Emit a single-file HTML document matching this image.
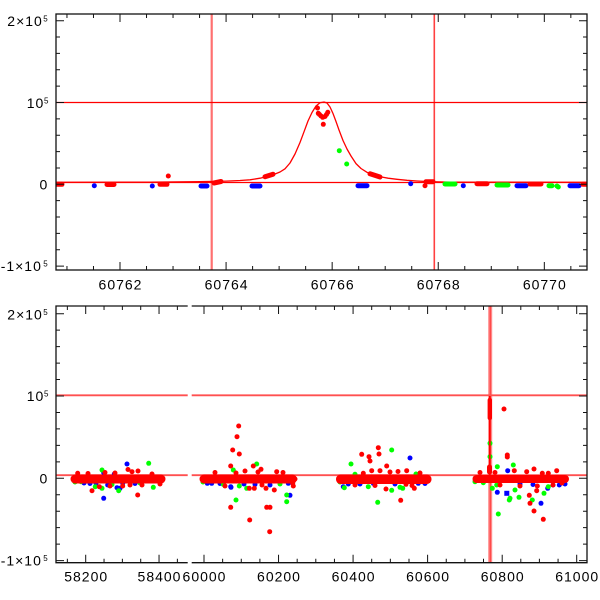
<!DOCTYPE html>
<html><head><meta charset="utf-8"><style>
html,body{margin:0;padding:0;background:#fff;}
svg{display:block;}
.t{font-family:"Liberation Sans",Arial,sans-serif;font-size:14px;fill:#000;letter-spacing:1px;}
.s{font-family:"Liberation Sans",Arial,sans-serif;font-size:8px;fill:#000;}
</style></head><body>
<svg width="600" height="600" viewBox="0 0 600 600" xmlns="http://www.w3.org/2000/svg">
<defs>
<clipPath id="c1"><rect x="56" y="14" width="531" height="256"/></clipPath>
<clipPath id="c2"><rect x="56" y="306" width="531" height="256.7"/></clipPath>
</defs>
<rect width="600" height="600" fill="#fff"/>

<!-- ================= TOP PANEL ================= -->
<g clip-path="url(#c1)">
<line x1="211.7" y1="14" x2="211.7" y2="270" stroke="#ff7070" stroke-width="2.2"/>
<line x1="434.3" y1="14" x2="434.3" y2="270" stroke="#ff4040" stroke-width="1.6"/>
<line x1="56" y1="102.5" x2="587" y2="102.5" stroke="#f00" stroke-width="1.3"/>
<line x1="56" y1="182.5" x2="587" y2="182.5" stroke="#f00" stroke-width="1.3"/>
<polyline fill="none" stroke="#f00" stroke-width="1.3" stroke-linejoin="round" points="56,182.3 150,182.1 200,181.7 226,181.1 240,180.5 250,179.8 260,178.2 265,177 270,175.6 275,174 280,172 285,168.8 290,163 295,154 300,142.5 304,131.8 308,121 312,112.5 316,106 320,102.8 324,102 327,103 330,107 333,113.5 336,121.5 339,130 343,140.5 347,149 351,156 356,163.6 361,168.5 367,172.3 373,174.8 380,176.7 388,178.2 397,179.3 407,180.3 417,181 430,181.7 450,182.1 587,182.3"/>
<g stroke-linecap="round" stroke-width="5" fill="none">
<g stroke="#00f">
<line x1="201" y1="186" x2="207" y2="186"/>
<line x1="252" y1="186" x2="260" y2="186"/>
<line x1="358" y1="185.7" x2="367" y2="185.7"/>
<line x1="517" y1="185.7" x2="526" y2="185.7"/>
<line x1="570" y1="185.7" x2="579" y2="185.7"/>
</g>
<g stroke="#00ff00">
<line x1="445" y1="184" x2="455" y2="184"/>
<line x1="497" y1="185" x2="508" y2="185"/>
<line x1="549" y1="185.7" x2="552" y2="185.7"/>
</g>
<g stroke="#f00">
<line x1="57" y1="184.3" x2="62" y2="184.3"/>
<line x1="107" y1="184.5" x2="114" y2="184.5"/>
<line x1="160" y1="184.3" x2="167" y2="184.3"/>
<line x1="214" y1="183" x2="221" y2="181.5"/>
<line x1="265" y1="176.7" x2="273" y2="174.2"/>
<line x1="370" y1="173.8" x2="380" y2="177"/>
<line x1="426" y1="181.7" x2="433" y2="181.7"/>
<line x1="477" y1="183.7" x2="487" y2="183.7"/>
<line x1="530" y1="184" x2="541" y2="184"/>
<line x1="583" y1="184.3" x2="590" y2="184.3"/>
</g>
</g>
<g fill="#00f">
<circle cx="94.3" cy="185.7" r="2.5"/><circle cx="152.3" cy="186" r="2.5"/>
<circle cx="410.7" cy="183.7" r="2.5"/><circle cx="463.3" cy="185.7" r="2.5"/>
</g>
<g fill="#00ff00">
<circle cx="339.3" cy="150.7" r="2.5"/><circle cx="346.7" cy="164" r="2.5"/>
<circle cx="557" cy="186" r="2.5"/><circle cx="558.3" cy="187" r="2.5"/>
</g>
<g fill="#f00">
<circle cx="168.3" cy="176" r="2.5"/>
<circle cx="317.5" cy="108" r="2.5"/><circle cx="318.3" cy="113.3" r="2.5"/>
<circle cx="319.5" cy="114.5" r="2.5"/><circle cx="321" cy="116" r="2.5"/>
<circle cx="322.7" cy="117.3" r="2.5"/><circle cx="323.3" cy="124.3" r="2.5"/>
<circle cx="325" cy="116.5" r="2.5"/><circle cx="326.5" cy="114.5" r="2.5"/>
<circle cx="327.8" cy="112.3" r="2.5"/>
<circle cx="425" cy="185.7" r="2.5"/>
</g>
</g>
<rect x="56" y="14" width="531" height="256" fill="none" stroke="#111" stroke-width="1.3"/>
<path stroke="#111" stroke-width="1" fill="none" d="
M66.96 270v-4M66.96 14v4M93.48 270v-4M93.48 14v4M120 270v-8M120 14v8M146.52 270v-4M146.52 14v4
M173.04 270v-4M173.04 14v4M199.56 270v-4M199.56 14v4M226.08 270v-8M226.08 14v8M252.6 270v-4M252.6 14v4
M279.12 270v-4M279.12 14v4M305.64 270v-4M305.64 14v4M332.16 270v-8M332.16 14v8M358.68 270v-4M358.68 14v4
M385.2 270v-4M385.2 14v4M411.72 270v-4M411.72 14v4M438.24 270v-8M438.24 14v8M464.76 270v-4M464.76 14v4
M491.28 270v-4M491.28 14v4M517.8 270v-4M517.8 14v4M544.32 270v-8M544.32 14v8M570.84 270v-4M570.84 14v4
M56 266.1h8M587 266.1h-8M56 249.74h4M587 249.74h-4M56 233.38h4M587 233.38h-4M56 217.02h4M587 217.02h-4
M56 200.66h4M587 200.66h-4M56 184.3h8M587 184.3h-8M56 167.94h4M587 167.94h-4M56 151.58h4M587 151.58h-4
M56 135.22h4M587 135.22h-4M56 118.86h4M587 118.86h-4M56 102.5h8M587 102.5h-8M56 86.14h4M587 86.14h-4
M56 69.78h4M587 69.78h-4M56 53.42h4M587 53.42h-4M56 37.06h4M587 37.06h-4M56 20.7h8M587 20.7h-8"/>
<text class="t" x="7.3" y="26">2×10</text><text class="s" x="43.3" y="21.5">5</text>
<text class="t" x="26.7" y="107.8">10</text><text class="s" x="44" y="103.3">5</text>
<text class="t" x="39.5" y="189.5">0</text>
<text class="t" x="0.7" y="271.2">-1×10</text><text class="s" x="43.3" y="266.7">5</text>
<g class="t" text-anchor="middle">
<text x="120.5" y="289.3">60762</text>
<text x="226.6" y="289.3">60764</text>
<text x="332.7" y="289.3">60766</text>
<text x="438.7" y="289.3">60768</text>
<text x="544.8" y="289.3">60770</text>
</g>

<!-- ================= BOTTOM PANEL ================= -->
<g clip-path="url(#c2)">
<rect x="488.2" y="306" width="4" height="257" fill="#ff8888"/>
<line x1="490.2" y1="306" x2="490.2" y2="563" stroke="#ff3030" stroke-width="1"/>
<path stroke="#ff5050" stroke-width="1.8" fill="none" d="M56 395.3H187.7M191.7 395.3H587M56 475.2H187.7M191.7 475.2H587"/>

<g fill="#00f">
<circle cx="103.7" cy="472.7" r="2.5"/><circle cx="127" cy="464" r="2.5"/><circle cx="114.3" cy="474" r="2.5"/>
<circle cx="103.7" cy="498.3" r="2.5"/><circle cx="117" cy="487.7" r="2.5"/><circle cx="107.7" cy="485" r="2.5"/>
<circle cx="122.7" cy="483.3" r="2.5"/><circle cx="96" cy="483.3" r="2.5"/><circle cx="120" cy="488.3" r="2.5"/>
<circle cx="90" cy="483.5" r="2.5"/><circle cx="135" cy="483.5" r="2.5"/><circle cx="84" cy="483" r="2.5"/>
<circle cx="207.3" cy="483.3" r="2.5"/><circle cx="211.7" cy="483.3" r="2.5"/><circle cx="230.7" cy="486.7" r="2.5"/>
<circle cx="270" cy="485" r="2.5"/><circle cx="288.3" cy="483.3" r="2.5"/><circle cx="290" cy="495.3" r="2.5"/>
<circle cx="244" cy="484" r="2.5"/><circle cx="255" cy="484.5" r="2.5"/><circle cx="220" cy="483.5" r="2.5"/>
<circle cx="231" cy="487.3" r="2.5"/>
<circle cx="410" cy="458" r="2.5"/><circle cx="343.3" cy="486.7" r="2.5"/><circle cx="348.3" cy="484" r="2.5"/>
<circle cx="373.3" cy="483.3" r="2.5"/><circle cx="418.3" cy="483.3" r="2.5"/><circle cx="360" cy="484" r="2.5"/>
<circle cx="395" cy="484" r="2.5"/><circle cx="425" cy="483.5" r="2.5"/>
<circle cx="507.7" cy="470.7" r="2.5"/><circle cx="497.3" cy="492.3" r="2.5"/><rect x="504.3" y="490.8" width="5" height="5"/>
<circle cx="541" cy="503.3" r="2.5"/><circle cx="547.7" cy="488.3" r="2.5"/><circle cx="559.3" cy="485" r="2.5"/>
<circle cx="520" cy="484" r="2.5"/><circle cx="533" cy="484.5" r="2.5"/><circle cx="565" cy="484" r="2.5"/>
<circle cx="553" cy="485" r="2.5"/>
</g>
<g fill="#00ff00">
<circle cx="102" cy="470" r="2.5"/><circle cx="148.7" cy="463.3" r="2.5"/><circle cx="95.3" cy="486.7" r="2.5"/>
<circle cx="102" cy="488.3" r="2.5"/><circle cx="118.7" cy="490.7" r="2.5"/><circle cx="153.3" cy="487.3" r="2.5"/>
<circle cx="81" cy="481.7" r="2.5"/><circle cx="140" cy="483" r="2.5"/><circle cx="112" cy="484.5" r="2.5"/>
<circle cx="75" cy="482" r="2.5"/>
<circle cx="256.7" cy="464" r="2.5"/><circle cx="223.3" cy="484.3" r="2.5"/><circle cx="239.3" cy="486" r="2.5"/>
<circle cx="286.7" cy="495" r="2.5"/><circle cx="286.7" cy="501.7" r="2.5"/><circle cx="236" cy="500" r="2.5"/>
<circle cx="233.3" cy="470" r="2.5"/><circle cx="246.7" cy="488.3" r="2.5"/><circle cx="203" cy="482" r="2.5"/>
<circle cx="280" cy="484" r="2.5"/>
<circle cx="351" cy="464" r="2.5"/><circle cx="391.7" cy="450" r="2.5"/><circle cx="355" cy="474.3" r="2.5"/>
<circle cx="416" cy="474" r="2.5"/><circle cx="377.7" cy="502.3" r="2.5"/><circle cx="391.7" cy="490.3" r="2.5"/>
<circle cx="368.3" cy="486.7" r="2.5"/><circle cx="400" cy="487.3" r="2.5"/><circle cx="402.7" cy="488.3" r="2.5"/>
<circle cx="344.3" cy="487.7" r="2.5"/><circle cx="340" cy="482" r="2.5"/>
<circle cx="490" cy="443.3" r="2.5"/><circle cx="490" cy="456.7" r="2.5"/><circle cx="497.3" cy="466.7" r="2.5"/>
<circle cx="513.3" cy="465" r="2.5"/><circle cx="492.3" cy="488.3" r="2.5"/><circle cx="496.7" cy="485" r="2.5"/>
<circle cx="510" cy="498.3" r="2.5"/><circle cx="515" cy="490" r="2.5"/><circle cx="519" cy="497.3" r="2.5"/>
<circle cx="509.3" cy="500" r="2.5"/><circle cx="498.3" cy="514" r="2.5"/><circle cx="532.3" cy="500" r="2.5"/>
<circle cx="544" cy="493.3" r="2.5"/><circle cx="548.3" cy="486.7" r="2.5"/><circle cx="475" cy="481.7" r="2.5"/>
<circle cx="483.3" cy="482.7" r="2.5"/>
</g>
<g fill="#f00">
<rect x="70.5" y="474.5" width="95" height="9" rx="4.5"/>
<rect x="199.5" y="474.5" width="97.5" height="9" rx="4.5"/>
<rect x="336" y="474.5" width="95.5" height="9.5" rx="4.5"/>
<rect x="472.5" y="475" width="96.5" height="8" rx="4"/>
<line x1="489.8" y1="396" x2="489.8" y2="476" stroke="#f00" stroke-width="1.8"/>
<line x1="489.8" y1="400" x2="489.8" y2="418" stroke="#f00" stroke-width="4.4" stroke-linecap="round"/>
<line x1="489.5" y1="467" x2="489.5" y2="472" stroke="#f00" stroke-width="5" stroke-linecap="round"/>
<circle cx="77.7" cy="473.3" r="2.5"/><circle cx="92" cy="490.7" r="2.5"/><circle cx="99.3" cy="486.7" r="2.5"/>
<circle cx="130" cy="485" r="2.5"/><circle cx="132" cy="471.7" r="2.5"/><circle cx="137.7" cy="495" r="2.5"/>
<circle cx="142" cy="485" r="2.5"/><circle cx="152" cy="474" r="2.5"/><circle cx="122.7" cy="486" r="2.5"/>
<circle cx="110" cy="486" r="2.5"/><circle cx="115" cy="473" r="2.5"/><circle cx="128" cy="469.5" r="2.5"/>
<circle cx="138" cy="471" r="2.5"/><circle cx="105" cy="472.5" r="2.5"/><circle cx="88" cy="473.5" r="2.5"/>
<circle cx="160" cy="484" r="2.5"/><circle cx="75" cy="481" r="2.5"/>
<circle cx="232.7" cy="450" r="2.5"/><circle cx="239.3" cy="454" r="2.5"/><circle cx="238.7" cy="426" r="2.5"/>
<circle cx="237" cy="436.7" r="2.5"/><circle cx="230.7" cy="466" r="2.5"/><circle cx="253.3" cy="466" r="2.5"/>
<circle cx="261" cy="469.3" r="2.5"/><circle cx="276.7" cy="471.7" r="2.5"/><circle cx="249.3" cy="488.3" r="2.5"/>
<circle cx="254.3" cy="488.3" r="2.5"/><circle cx="266" cy="488.3" r="2.5"/><circle cx="274.3" cy="490" r="2.5"/>
<circle cx="230.7" cy="507.3" r="2.5"/><circle cx="266.7" cy="507.3" r="2.5"/><circle cx="270" cy="507.3" r="2.5"/>
<circle cx="249.7" cy="520" r="2.5"/><circle cx="269.7" cy="531.7" r="2.5"/><circle cx="292.7" cy="483.3" r="2.5"/>
<circle cx="293.3" cy="486" r="2.5"/><circle cx="215" cy="472.5" r="2.5"/><circle cx="245" cy="471" r="2.5"/>
<circle cx="225" cy="486" r="2.5"/><circle cx="283" cy="472.5" r="2.5"/><circle cx="262" cy="485" r="2.5"/>
<circle cx="236" cy="473" r="2.5"/><circle cx="258" cy="472" r="2.5"/><circle cx="295" cy="479" r="2.5"/>
<circle cx="361.7" cy="454.3" r="2.5"/><circle cx="369" cy="456.7" r="2.5"/><circle cx="370" cy="461" r="2.5"/>
<circle cx="378.3" cy="447.7" r="2.5"/><circle cx="379" cy="454" r="2.5"/><circle cx="386.7" cy="466" r="2.5"/>
<circle cx="380" cy="470.7" r="2.5"/><circle cx="371.7" cy="470.7" r="2.5"/><circle cx="406.7" cy="470.7" r="2.5"/>
<circle cx="363.3" cy="473.3" r="2.5"/><circle cx="400.7" cy="500.3" r="2.5"/><circle cx="386" cy="489" r="2.5"/>
<circle cx="414.3" cy="488.3" r="2.5"/><circle cx="406" cy="484.3" r="2.5"/><circle cx="375" cy="485.5" r="2.5"/>
<circle cx="390" cy="472" r="2.5"/><circle cx="355" cy="485" r="2.5"/><circle cx="420" cy="473" r="2.5"/>
<circle cx="398" cy="471.5" r="2.5"/><circle cx="412" cy="485.5" r="2.5"/>
<circle cx="504" cy="409" r="2.5"/><circle cx="507.3" cy="455" r="2.5"/><circle cx="507.3" cy="457" r="2.5"/>
<circle cx="514.3" cy="470.7" r="2.5"/><circle cx="526.7" cy="471.7" r="2.5"/><circle cx="534" cy="469" r="2.5"/>
<circle cx="542.3" cy="473.3" r="2.5"/><circle cx="548.3" cy="473.3" r="2.5"/><circle cx="556.7" cy="470.7" r="2.5"/>
<circle cx="529.3" cy="495.3" r="2.5"/><circle cx="530" cy="503.3" r="2.5"/><circle cx="536.7" cy="490.7" r="2.5"/>
<circle cx="537.3" cy="486" r="2.5"/><circle cx="534" cy="511" r="2.5"/><circle cx="543.3" cy="519.3" r="2.5"/>
<circle cx="500" cy="485" r="2.5"/><circle cx="520" cy="486" r="2.5"/><circle cx="553" cy="485" r="2.5"/>
<circle cx="562" cy="483" r="2.5"/><circle cx="480" cy="472.5" r="2.5"/><circle cx="495" cy="472.5" r="2.5"/>
</g>
</g>
<path stroke="#111" stroke-width="1.3" fill="none" d="M187.7 306H56V562.7H187.7M191.7 306H587V562.7H191.7"/>
<path stroke="#111" stroke-width="1" fill="none" d="
M67.36 562.7v-4M67.36 306v4M85.7 562.7v-8M85.7 306v8M104.04 562.7v-4M104.04 306v4M122.37 562.7v-4M122.37 306v4
M140.71 562.7v-4M140.71 306v4M159.04 562.7v-8M159.04 306v8M177.38 562.7v-4M177.38 306v4
M204 562.7v-8M204 306v8M222.64 562.7v-4M222.64 306v4M241.27 562.7v-4M241.27 306v4M259.9 562.7v-4M259.9 306v4
M278.54 562.7v-8M278.54 306v8M297.18 562.7v-4M297.18 306v4M315.8 562.7v-4M315.8 306v4M334.45 562.7v-4M334.45 306v4
M353.08 562.7v-8M353.08 306v8M371.7 562.7v-4M371.7 306v4M390.35 562.7v-4M390.35 306v4M409 562.7v-4M409 306v4
M427.6 562.7v-8M427.6 306v8M446.25 562.7v-4M446.25 306v4M464.9 562.7v-4M464.9 306v4M483.5 562.7v-4M483.5 306v4
M502.2 562.7v-8M502.2 306v8M520.8 562.7v-4M520.8 306v4M539.4 562.7v-4M539.4 306v4M558.07 562.7v-4M558.07 306v4
M576.7 562.7v-8M576.7 306v8
M56 560.6h8M587 560.6h-8M56 544.14h4M587 544.14h-4M56 527.68h4M587 527.68h-4M56 511.22h4M587 511.22h-4
M56 494.76h4M587 494.76h-4M56 478.3h8M587 478.3h-8M56 461.84h4M587 461.84h-4M56 445.38h4M587 445.38h-4
M56 428.92h4M587 428.92h-4M56 412.46h4M587 412.46h-4M56 396h8M587 396h-8M56 379.54h4M587 379.54h-4
M56 363.08h4M587 363.08h-4M56 346.62h4M587 346.62h-4M56 330.16h4M587 330.16h-4M56 313.7h8M587 313.7h-8"/>
<text class="t" x="7.3" y="319.5">2×10</text><text class="s" x="43.3" y="315">5</text>
<text class="t" x="26.7" y="401">10</text><text class="s" x="44" y="396.5">5</text>
<text class="t" x="39.5" y="483.3">0</text>
<text class="t" x="0.7" y="565.6">-1×10</text><text class="s" x="43.3" y="561.1">5</text>
<g class="t" text-anchor="middle">
<text x="86.2" y="581.5">58200</text>
<text x="159.5" y="581.5">58400</text>
<text x="204.5" y="581.5">60000</text>
<text x="279" y="581.5">60200</text>
<text x="353.6" y="581.5">60400</text>
<text x="428.1" y="581.5">60600</text>
<text x="502.7" y="581.5">60800</text>
<text x="577.2" y="581.5">61000</text>
</g>
</svg>
</body></html>
